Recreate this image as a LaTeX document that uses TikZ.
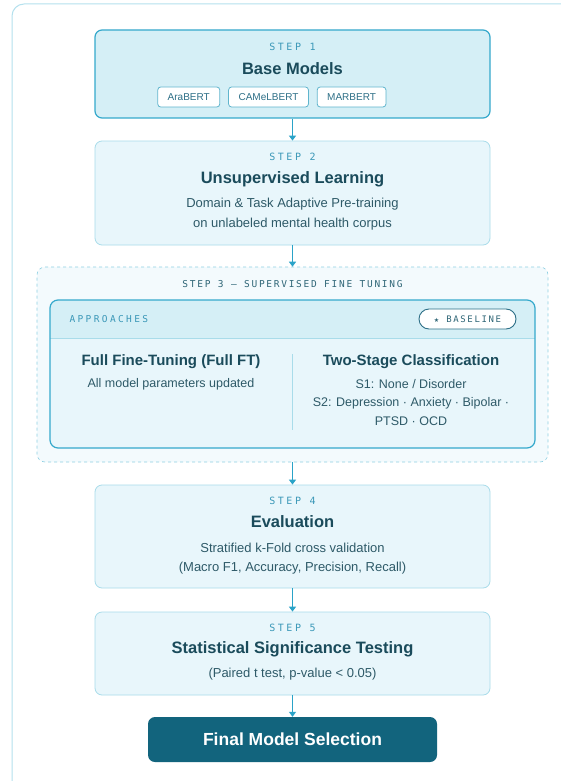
\documentclass[tikz,border=0pt]{standalone}
\usepackage{fontspec}
\setmainfont{Liberation Sans}
\newfontfamily\monolbl[LetterSpace=25]{DejaVu Sans Mono}
\newfontfamily\monogrp[LetterSpace=18]{DejaVu Sans Mono}
\newfontfamily\symfont{DejaVu Sans}
\usepackage{tikz}
\usetikzlibrary{
    arrows.meta,
    positioning
}
\definecolor{framecol}{HTML}{B5E1EE}
\definecolor{hotline}{HTML}{35A9CC}
\definecolor{hotfill}{HTML}{D5EFF6}
\definecolor{softline}{HTML}{A9DCEA}
\definecolor{softfill}{HTML}{E8F6FB}
\definecolor{groupfill}{HTML}{F3FAFD}
\definecolor{groupline}{HTML}{8FD0E3}
\definecolor{flowcol}{HTML}{2AA3C8}
\definecolor{finalfill}{HTML}{12647D}
\definecolor{titlecol}{HTML}{1A4B5B}
\definecolor{bodycol}{HTML}{2E5A68}
\definecolor{labelcol}{HTML}{3B98B8}
\definecolor{groupcol}{HTML}{2F6677}
\definecolor{pillline}{HTML}{60B5CD}
\definecolor{pilltext}{HTML}{2D6F87}
\tikzset{
    stepbox/.style={draw=softline, fill=softfill, line width=0.8pt,
        rounded corners=7pt, minimum width=395pt, inner sep=0pt},
    steplbl/.style={text=labelcol, font=\monolbl\fontsize{10}{12}\selectfont},
    steptitle/.style={text=titlecol, font=\bfseries\fontsize{16.5}{19}\selectfont},
    stepbody/.style={text=bodycol, font=\fontsize{13}{15}\selectfont},
    apprtitle/.style={text=titlecol, font=\bfseries\fontsize{15}{18}\selectfont},
    apprbody/.style={text=bodycol, font=\fontsize{12.5}{15}\selectfont},
    modelpill/.style={draw=pillline, fill=white, rounded corners=3pt, line width=0.8pt,
        text=pilltext, font=\fontsize{10}{12}\selectfont,
        minimum height=20pt, inner xsep=10pt},
    flow/.style={draw=flowcol, line width=1.5pt, -{Triangle[length=5pt, width=7pt]}}
}
\begin{document}
\begin{tikzpicture}[x=1pt, y=-1pt]
    \clip (0, 0) rectangle (561, 781);
    \fill[white] (0, 0) rectangle (561, 781);
    \draw[framecol, line width=1pt, rounded corners=12pt] (12, 4) rectangle (590, 810);

    % step 1
    \node[stepbox, draw=hotline, fill=hotfill, line width=1.2pt, minimum height=88pt] (s1) at (292.5, 74) {};
    \node[steplbl] (s1lbl) at (292.5, 47) {STEP 1};
    \node[steptitle] (s1title) at (292.5, 69) {Base Models};
    \node[modelpill] (camel) at (268.5, 97) {CAMeLBERT};
    \node[modelpill, left=8pt of camel] (arabert) {AraBERT};
    \node[modelpill, right=8pt of camel] (marbert) {MARBERT};

    % step 2
    \node[stepbox, minimum height=104pt] (s2) at (292.5, 193) {};
    \node[steplbl] (s2lbl) at (292.5, 157) {STEP 2};
    \node[steptitle] (s2title) at (292.5, 179) {Unsupervised Learning};
    \node[stepbody] (s2line1) at (292.5, 204) {Domain \& Task Adaptive Pre-training};
    \node[stepbody] (s2line2) at (292.5, 224) {on unlabeled mental health corpus};

    % step 3
    \node[draw=groupline, fill=groupfill, dashed, line width=0.6pt, rounded corners=8pt,
        minimum width=511pt, minimum height=195pt] (s3) at (292.5, 364.5) {};
    \node[text=groupcol, font=\monogrp\fontsize{9.5}{11}\selectfont] (s3lbl) at (292.5, 284) {STEP 3 — SUPERVISED FINE TUNING};
    \node[fill=softfill, rounded corners=8pt, minimum width=485pt, minimum height=148pt] (appr) at (292.5, 374) {};
    \fill[hotfill, rounded corners=8pt] (50, 338) -- (50, 300) -- (535, 300) -- (535, 338);
    \draw[softline, line width=0.8pt] (50, 338) -- (535, 338);
    \draw[hotline, line width=1.2pt, rounded corners=8pt] (50, 300) rectangle (535, 448);
    \node[text=labelcol, font=\monolbl\fontsize{9.5}{11}\selectfont, anchor=west] (apprlbl) at (66, 319) {APPROACHES};
    \node[draw=pilltext, fill=white, line width=0.9pt, rounded corners=10pt, minimum width=97pt, minimum height=20pt,
        text=groupcol, font=\monogrp\fontsize{9}{11}\selectfont] (base) at (467.5, 319) {{\symfont\fontsize{6}{6}\selectfont★}~BASELINE};
    \draw[softline, line width=0.8pt] (292, 354) -- (292, 430);
    \node[apprtitle] (fullft) at (171, 362) {Full Fine-Tuning (Full FT)};
    \node[apprbody] (fullbody) at (171, 384) {All model parameters updated};
    \node[apprtitle] (twostage) at (411, 362) {Two-Stage Classification};
    \node[apprbody] (twoline1) at (411, 384) {S1: None / Disorder};
    \node[apprbody] (twoline2) at (411, 403) {S2: Depression · Anxiety · Bipolar ·};
    \node[apprbody] (twoline3) at (411, 421) {PTSD · OCD};

    % step 4
    \node[stepbox, minimum height=103pt] (s4) at (292.5, 536.5) {};
    \node[steplbl] (s4lbl) at (292.5, 501) {STEP 4};
    \node[steptitle] (s4title) at (292.5, 522) {Evaluation};
    \node[stepbody] (s4line1) at (292.5, 548) {Stratified k-Fold cross validation};
    \node[stepbody] (s4line2) at (292.5, 568) {(Macro F1, Accuracy, Precision, Recall)};

    % step 5
    \node[stepbox, minimum height=83pt] (s5) at (292.5, 653.5) {};
    \node[steplbl] (s5lbl) at (292.5, 628) {STEP 5};
    \node[steptitle] (s5title) at (292.5, 649) {Statistical Significance Testing};
    \node[stepbody] (s5line1) at (292.5, 674) {(Paired t test, p-value < 0.05)};

    % final
    \node[fill=finalfill, rounded corners=7pt, minimum width=289pt, minimum height=45pt,
        text=white, font=\bfseries\fontsize{17.5}{20}\selectfont] (final) at (292.5, 739.5) {Final Model Selection};

    \draw[flow] (s1) -- (s2);
    \draw[flow] (s2) -- (s3);
    \draw[flow] (s3) -- (s4);
    \draw[flow] (s4) -- (s5);
    \draw[flow] (s5) -- (final);
\end{tikzpicture}
\end{document}
